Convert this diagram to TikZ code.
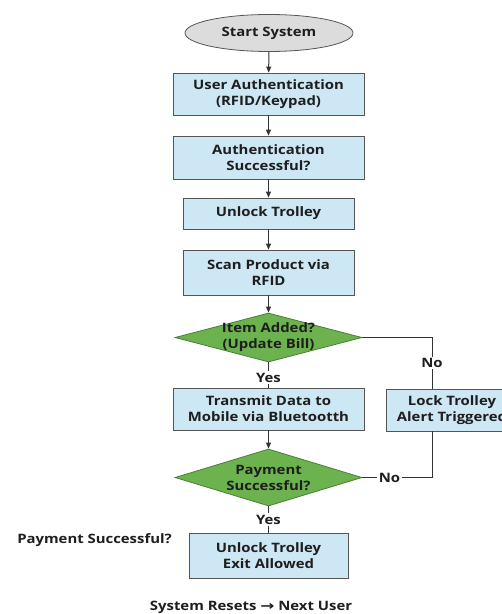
\documentclass[tikz,border=0pt]{standalone}
\usepackage{fontspec}
\setmainfont{Open Sans}[FakeStretch=1.15]
\newfontfamily\arrowfont{DejaVu Sans}[FakeStretch=1.3]
\usetikzlibrary{shapes.geometric,arrows.meta}
\definecolor{txt}{HTML}{1E1E1E}
\definecolor{edge}{HTML}{555555}
\definecolor{wire}{HTML}{333333}
\definecolor{startgrey}{HTML}{DCDCDC}
\definecolor{boxblue}{HTML}{CDE7F5}
\definecolor{decgreen}{HTML}{6CB34F}
\definecolor{greenedge}{HTML}{4A7F36}
\begin{document}
\begin{tikzpicture}[x=1bp,y=-1bp,
  every node/.style={font=\bfseries\fontsize{13}{16}\selectfont, text=txt},
  startnode/.style={ellipse, draw=edge, fill=startgrey, line width=0.8bp, minimum width=168bp, minimum height=37bp, inner sep=0pt},
  stepbox/.style={rectangle, draw=edge, fill=boxblue, line width=0.8bp, align=center, inner sep=0pt},
  decide/.style={diamond, draw=greenedge, fill=decgreen, line width=0.8bp, align=center, inner xsep=-35bp, inner ysep=-14bp, minimum width=187bp},
  flow/.style={draw=wire, line width=1bp, -{Triangle[length=6bp,width=5bp]}},
  link/.style={draw=wire, line width=1bp},
  tag/.style={fill=white, inner sep=1.5bp}]
\useasboundingbox (0,0) rectangle (502,614);
\clip (0,0) rectangle (502,614);

% Hauptablauf
\node[startnode] (start) at (269,33) {Start System};
\node[stepbox, minimum width=191bp, minimum height=42bp] (auth) at (268.5,94) {User Authentication\\(RFID/Keypad)};
\node[stepbox, minimum width=191bp, minimum height=43bp] (authok) at (268.5,157.5) {Authentication\\Successful?};
\node[stepbox, minimum width=171bp, minimum height=31bp] (unlock) at (268.5,213.5) {Unlock Trolley};
\node[stepbox, minimum width=171bp, minimum height=45bp] (scan) at (268.5,272.5) {Scan Product via\\RFID};
\node[decide, minimum height=49bp] (item) at (268.5,337.5) {Item Added?\\(Update Bill)};
\node[stepbox, minimum width=191bp, minimum height=42bp] (transmit) at (268.5,409) {Transmit Data to\\Mobile via Bluetootth};
\node[decide, minimum height=57bp] (pay) at (268.5,477.5) {Payment\\Successful?};
\node[stepbox, minimum width=159bp, minimum height=45bp] (exit) at (268.5,555.5) {Unlock Trolley\\Exit Allowed};

% Nebenzweig
\node[stepbox, minimum width=132bp, minimum height=42bp] (lock) at (452,410) {Lock Trolley\\Alert Triggered};
\coordinate (turnA) at (432,337.5);
\coordinate (turnB) at (432,477.5);

% Texte ohne Rahmen
\node (paylabel) at (94.5,540) {Payment Successful?};
\node (reset) at (251,607) {System Resets {\arrowfont →} Next User};

% Pfeile
\draw[flow] (start) -- (auth);
\draw[flow] (auth) -- (authok);
\draw[flow] (authok) -- (unlock);
\draw[flow] (unlock) -- (scan);
\draw[flow] (scan) -- (item);
\draw[link] (item) -- node[tag, pos=0.6] {Yes} (transmit);
\draw[flow] (transmit) -- (pay);
\draw[link] (pay) -- node[tag, pos=0.5] {Yes} (exit);

% Nein-Zweige
\draw[link] (item.east) -- (turnA) -- node[tag, pos=0.5] {No} (turnA |- lock.north);
\draw[link] (turnA |- lock.south) -- (turnB) -- node[tag, pos=0.61] {No} (pay.east);
\end{tikzpicture}
\end{document}
